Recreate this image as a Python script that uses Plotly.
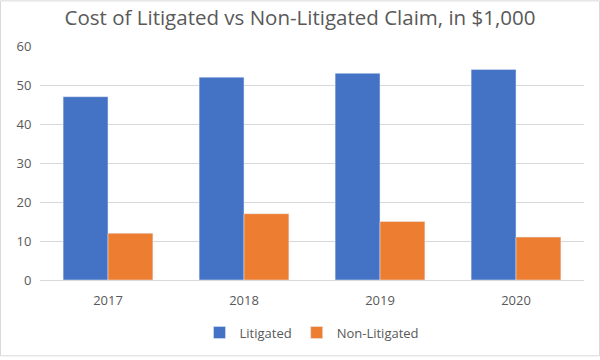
import plotly.graph_objects as go

categories = ["2017", "2018", "2019", "2020"]
litigated = [47, 52, 53, 54]
non_litigated = [12, 17, 15, 11]

W, H = 600, 360
ml, mr, mt, mb = 40, 16, 46, 78
pw, ph = W - ml - mr, H - mt - mb

fig = go.Figure()
fig.add_trace(go.Bar(x=categories, y=litigated, name="Litigated", marker_color="#4472C4"))
fig.add_trace(go.Bar(x=categories, y=non_litigated, name="Non-Litigated", marker_color="#ED7D31"))

font = "Open Sans, Liberation Sans, sans-serif"
fig.update_layout(
    width=W, height=H,
    margin=dict(l=ml, r=mr, t=mt, b=mb),
    paper_bgcolor="white", plot_bgcolor="white",
    barmode="group", bargap=0.34, bargroupgap=0,
    font=dict(family=font, color="#595959", size=13),
    title=dict(text="Cost of Litigated vs Non-Litigated Claim, in $1,000",
               x=0.5, xanchor="center", y=1 - 18 / H, yanchor="middle",
               font=dict(size=20.5, color="#595959", family=font)),
    legend=dict(orientation="h", x=0.5, xanchor="center", y=-(335 - mt - ph) / ph, yanchor="middle",
                font=dict(size=13, color="#595959"), itemwidth=30),
    xaxis=dict(showgrid=False, showline=False, ticks="outside", ticklen=8,
               tickcolor="rgba(0,0,0,0)", tickfont=dict(size=13, color="#595959")),
    yaxis=dict(range=[0, 60], dtick=10, showgrid=True, gridcolor="#D9D9D9", gridwidth=1,
               zeroline=True, zerolinecolor="#D9D9D9", zerolinewidth=1, showline=False,
               ticks="outside", ticklen=5, tickcolor="rgba(0,0,0,0)",
               tickfont=dict(size=13, color="#595959")),
    shapes=[dict(type="rect", xref="paper", yref="paper",
                 x0=(-ml + 0.5) / pw, x1=(pw + mr - 0.5) / pw,
                 y0=(-mb + 1.5) / ph, y1=(ph + mt - 0.5) / ph,
                 line=dict(color="#D9D9D9", width=1), layer="below")],
)

fig.write_html("out.html", config={"displayModeBar": False},
               post_script="document.body.style.margin='0';")
